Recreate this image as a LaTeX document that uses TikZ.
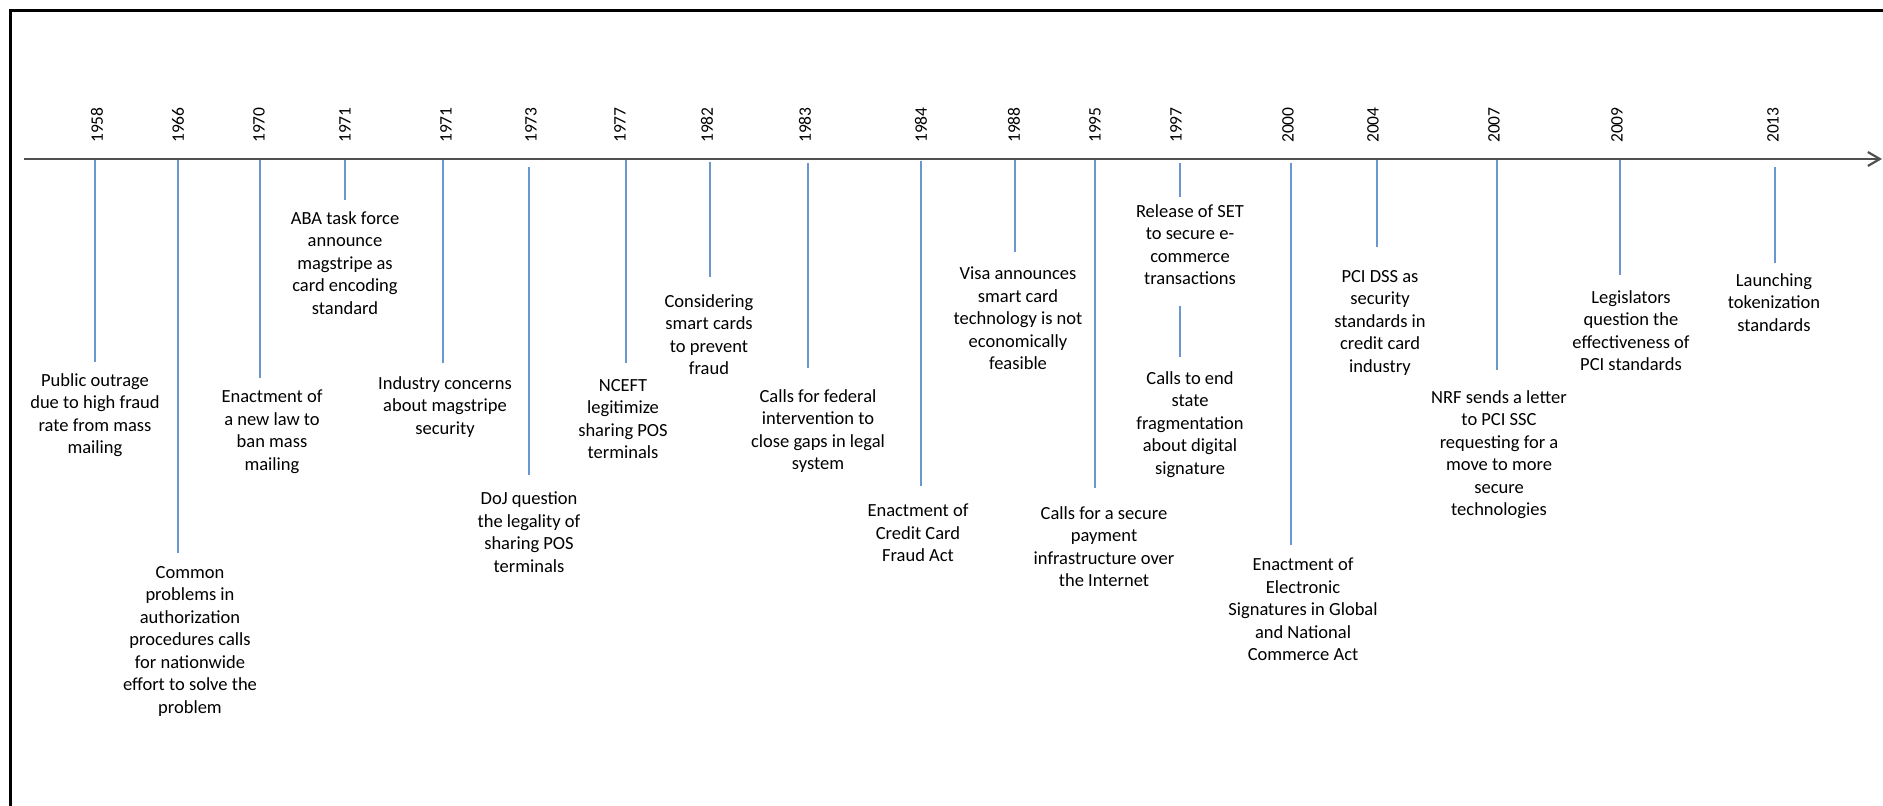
\documentclass[tikz,border=0pt]{standalone}
\usepackage{fontspec}
\setmainfont{Carlito}
\usetikzlibrary{arrows.meta}

\definecolor{stemblue}{HTML}{6A97D0}
\definecolor{axisgrey}{HTML}{505050}

\tikzset{
  frameline/.style={draw=black, line width=3pt},
  timeaxis/.style={draw=axisgrey, line width=2.2pt, -{Straight Barb[length=12pt,width=14pt]}},
  yearlabel/.style={rotate=90, anchor=west, inner sep=0pt, text=black,
                    font=\fontsize{17.5}{20}\selectfont},
  eventtext/.style={anchor=north, align=center, inner sep=0pt, text=black,
                    font=\fontsize{18.5}{22.5}\selectfont},
  stem/.style={draw=stemblue, line width=1.4pt},
}

% #1 name, #2 year, #3 year x, #4 stem x, #5 stem top y, #6 gap above text,
% #7 text x, #8 first-line y, #9 text
\newcommand\tlevent[9]{%
  \node[yearlabel] (#1-year) at (#3,143) {#2};
  \coordinate (#1-root) at (#4,#5);
  \node[eventtext] (#1-text) at (#7,#8-7) {#9};
  \draw[stem, shorten >=#6pt] (#1-root) -- (#1-root |- #1-text.north);
}

\begin{document}
\begin{tikzpicture}[x=1pt,y=-1pt]
  \useasboundingbox (0,0) rectangle (1883,806);

  % outer frame (left and top edges)
  \coordinate (frameBL) at (10,806);
  \coordinate (frameTL) at (10,10);
  \coordinate (frameTR) at (1883,10);
  \draw[frameline] (frameBL) -- (frameTL) -- (frameTR);

  % time axis
  \coordinate (axisstart) at (24,159);
  \coordinate (axisend) at (1882,159);
  \draw[timeaxis] (axisstart) -- (axisend);

  % events
  \tlevent{e58}{1958}{97}{95}{160}{11}{95}{380}{Public outrage\\due to high fraud\\rate from mass\\mailing}
  \tlevent{e66}{1966}{178}{178}{160}{13}{190}{573}{Common\\problems in\\authorization\\procedures calls\\for nationwide\\effort to solve the\\problem}
  \tlevent{e70}{1970}{259}{260}{160}{12}{272}{397}{Enactment of\\a new law to\\ban mass\\mailing}
  \tlevent{e71a}{1971}{345}{345}{160}{11}{345}{218}{ABA task force\\announce\\magstripe as\\card encoding\\standard}
  \tlevent{e71b}{1971}{446}{443}{160}{13}{445}{383}{Industry concerns\\about magstripe\\security}
  \tlevent{e73}{1973}{531}{529}{167}{17}{529}{499}{DoJ question\\the legality of\\sharing POS\\terminals}
  \tlevent{e77}{1977}{620}{626}{160}{16}{623}{386}{NCEFT\\legitimize\\sharing POS\\terminals}
  \tlevent{e82}{1982}{707}{710}{162}{17}{709}{301}{Considering\\smart cards\\to prevent\\fraud}
  \tlevent{e83}{1983}{805}{808}{163}{21}{818}{396}{Calls for federal\\intervention to\\close gaps in legal\\system}
  \tlevent{e84}{1984}{921}{921}{161}{18}{918}{511}{Enactment of\\Credit Card\\Fraud Act}
  \tlevent{e88}{1988}{1014}{1015}{160}{15}{1018}{274}{Visa announces\\smart card\\technology is not\\economically\\feasible}
  \tlevent{e95}{1995}{1095}{1095}{160}{18}{1104}{513}{Calls for a secure\\payment\\infrastructure over\\the Internet}
  \tlevent{e97}{1997}{1176}{1180}{163}{7}{1190}{211}{Release of SET\\to secure e-\\commerce\\transactions}
  \tlevent{e00}{2000}{1288}{1291}{163}{13}{1303}{565}{Enactment of\\Electronic\\Signatures in Global\\and National\\Commerce Act}
  \tlevent{e04}{2004}{1373}{1377}{160}{23}{1380}{277}{PCI DSS as\\security\\standards in\\credit card\\industry}
  \tlevent{e07}{2007}{1494}{1497}{160}{20}{1499}{397}{NRF sends a letter\\to PCI SSC\\requesting for a\\move to more\\secure\\technologies}
  \tlevent{e09}{2009}{1617}{1620}{160}{15}{1631}{297}{Legislators\\question the\\effectiveness of\\PCI standards}
  \tlevent{e13}{2013}{1773}{1775}{167}{10}{1774}{280}{Launching\\tokenization\\standards}

  % second 1997 entry hanging below the first one
  \node[eventtext] (e97b-text) at (1190,371) {Calls to end\\state\\fragmentation\\about digital\\signature};
  \draw[stem, shorten <=21pt, shorten >=14pt] (e97-root |- e97-text.south) -- (e97-root |- e97b-text.north);
\end{tikzpicture}
\end{document}
